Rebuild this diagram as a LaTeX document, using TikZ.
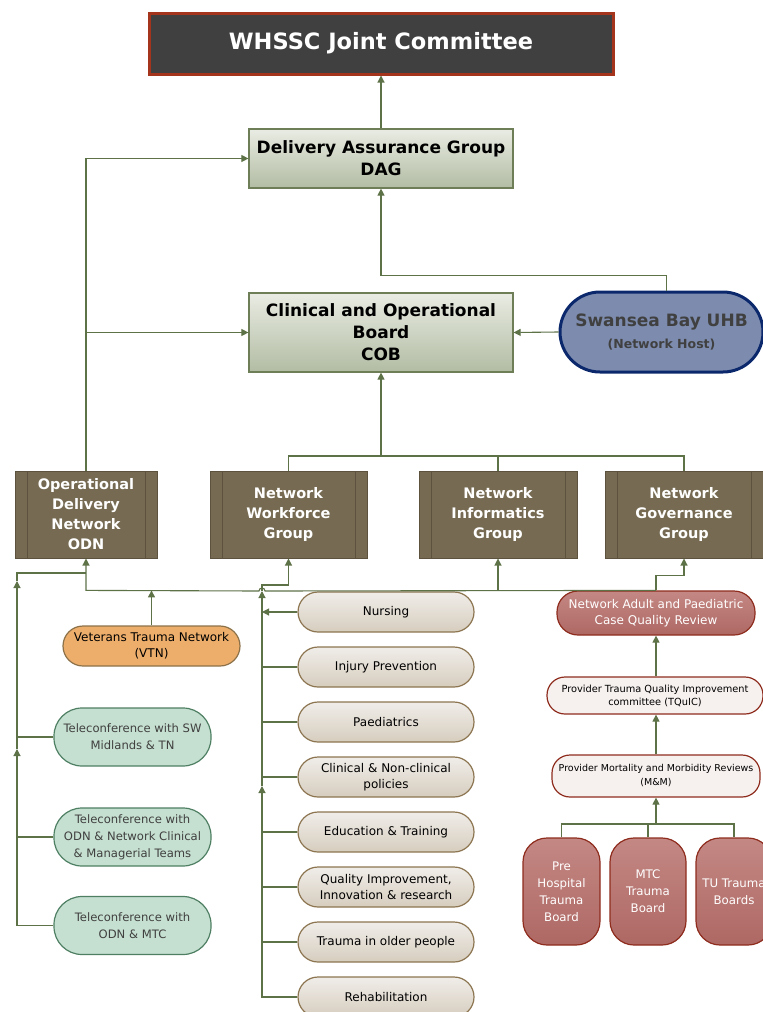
\documentclass[tikz,border=0pt]{standalone}
\usepackage{fontspec}
\setmainfont{DejaVu Sans}
\usetikzlibrary{arrows.meta}
\definecolor{linec}{RGB}{94,114,72}
\definecolor{whsf}{RGB}{64,64,64}
\definecolor{whsb}{RGB}{165,52,28}
\definecolor{boardt}{RGB}{233,236,227}
\definecolor{boardb}{RGB}{178,188,163}
\definecolor{boardd}{RGB}{110,127,87}
\definecolor{grpf}{RGB}{118,107,82}
\definecolor{grpb}{RGB}{92,82,61}
\definecolor{hostf}{RGB}{124,139,174}
\definecolor{hostb}{RGB}{12,40,108}
\definecolor{vtnf}{RGB}{237,174,108}
\definecolor{vtnb}{RGB}{140,113,72}
\definecolor{telf}{RGB}{197,223,208}
\definecolor{telb}{RGB}{78,127,99}
\definecolor{edut}{RGB}{240,237,233}
\definecolor{edub}{RGB}{214,205,190}
\definecolor{edud}{RGB}{140,117,80}
\definecolor{revt}{RGB}{196,136,132}
\definecolor{revb}{RGB}{174,104,100}
\definecolor{revd}{RGB}{142,44,30}
\definecolor{provf}{RGB}{246,241,239}
\definecolor{darktxt}{RGB}{64,64,64}

\begin{document}
\begin{tikzpicture}[x=1pt, y=-1pt,
  arr/.style={-{Triangle[length=7pt,width=7pt]}, draw=linec, line width=1.1pt},
  ln/.style={draw=linec, line width=1.1pt},
  topbox/.style={draw=whsb, fill=whsf, line width=3pt, text=white, font=\bfseries\fontsize{22.5}{26}\selectfont, minimum width=464pt, minimum height=61pt},
  board/.style={draw=boardd, top color=boardt, bottom color=boardb, line width=1.2pt, align=center, font=\bfseries\fontsize{17}{22}\selectfont, minimum width=264pt, inner sep=1pt},
  grp/.style={draw=grpb, fill=grpf, line width=1pt, text=white, align=center, font=\bfseries\fontsize{14.5}{20}\selectfont, minimum height=87pt, inner sep=1pt,
    path picture={\draw[grpb, line width=1pt] ([xshift=12pt]path picture bounding box.north west) -- ([xshift=12pt]path picture bounding box.south west)
      ([xshift=-12pt]path picture bounding box.north east) -- ([xshift=-12pt]path picture bounding box.south east);}},
  host/.style={draw=hostb, fill=hostf, line width=3pt, text=darktxt, align=center, rounded corners=40pt, minimum width=203pt, minimum height=80pt},
  vtnbox/.style={draw=vtnb, fill=vtnf, line width=1.2pt, align=center, rounded corners=20pt, font=\fontsize{12}{16}\selectfont, minimum width=177pt, minimum height=40pt, inner sep=1pt},
  tele/.style={draw=telb, fill=telf, line width=1.2pt, text=darktxt, align=center, rounded corners=28pt, font=\fontsize{11.6}{17}\selectfont, minimum width=157pt, minimum height=58pt, inner sep=1pt},
  edu/.style={draw=edud, top color=edut, bottom color=edub, line width=1.2pt, align=center, rounded corners=20pt, font=\fontsize{12}{16}\selectfont, minimum width=176pt, minimum height=40pt, inner sep=1pt},
  review/.style={draw=revd, top color=revt, bottom color=revb, line width=1.2pt, text=white, align=center, rounded corners=21pt, font=\fontsize{12}{16}\selectfont, minimum width=198pt, minimum height=44pt, inner sep=1pt},
  prov/.style={draw=revd, fill=provf, line width=1.2pt, align=center, rounded corners=18pt, inner sep=1pt},
  trauma/.style={draw=revd, top color=revt, bottom color=revb, line width=1.2pt, text=white, align=center, rounded corners=24pt, font=\fontsize{11.8}{17}\selectfont, minimum height=107pt, inner sep=1pt}]
\useasboundingbox (0,0) rectangle (763,1012);

% committees
\node[topbox] (whssc) at (381,43.5) {WHSSC Joint Committee};
\node[board, minimum height=59pt] (dag) at (381,158.5) {Delivery Assurance Group\\DAG};
\node[board, minimum height=79pt] (cob) at (381,332.5) {Clinical and Operational\\Board\\COB};
\node[host] (host) at (661.5,332) {{\bfseries\fontsize{17}{26}\selectfont Swansea Bay UHB}\\[7pt]{\bfseries\fontsize{12.5}{16}\selectfont (Network Host)}};

% groups
\node[grp, minimum width=142pt] (odn) at (86,514.5) {Operational\\Delivery\\Network\\ODN};
\node[grp, minimum width=157pt] (wfg) at (288.5,514.5) {Network\\Workforce\\Group};
\node[grp, minimum width=158pt] (nig) at (498,514.5) {Network\\Informatics\\Group};
\node[grp, minimum width=158pt] (ngg) at (684,514.5) {Network\\Governance\\Group};

% left side
\node[vtnbox] (vtn) at (151.5,646) {Veterans Trauma Network\\(VTN)};
\node[tele] (tel1) at (132.5,737) {Teleconference with SW\\Midlands \& TN};
\node[tele] (tel2) at (132.5,837) {Teleconference with\\ODN \& Network Clinical\\\& Managerial Teams};
\node[tele] (tel3) at (132.5,925.5) {Teleconference with\\ODN \& MTC};

% workforce topics
\node[edu] (edu1) at (386,612) {Nursing};
\node[edu] (edu2) at (386,667) {Injury Prevention};
\node[edu] (edu3) at (386,722) {Paediatrics};
\node[edu] (edu4) at (386,777) {Clinical \& Non-clinical\\policies};
\node[edu] (edu5) at (386,832) {Education \& Training};
\node[edu] (edu6) at (386,887) {Quality Improvement,\\Innovation \& research};
\node[edu] (edu7) at (386,942) {Trauma in older people};
\node[edu] (edu8) at (386,997) {Rehabilitation};

% governance side
\node[review] (cqr) at (656,613) {Network Adult and Paediatric\\Case Quality Review};
\node[prov, minimum width=216pt, minimum height=37pt, font=\fontsize{9.8}{13}\selectfont] (tquic) at (655,695.5) {Provider Trauma Quality Improvement\\committee (TQuIC)};
\node[prov, minimum width=208pt, minimum height=42pt, font=\fontsize{9.5}{14}\selectfont] (mm) at (656,776) {Provider Mortality and Morbidity Reviews\\(M\&M)};
\node[trauma, minimum width=77pt] (pre) at (561.5,891.5) {Pre\\Hospital\\Trauma\\Board};
\node[trauma, minimum width=76pt] (mtc) at (648,891.5) {MTC\\Trauma\\Board};
\node[trauma, minimum width=76pt] (tu) at (734,891.5) {TU Trauma\\Boards};

% junction points
\coordinate (gbus) at (381,456);
\coordinate (tbus) at (17,573);
\coordinate (ta1) at (17,581);
\coordinate (ta2) at (17,749);
\coordinate (ebus) at (262,585);
\coordinate (ea1) at (262,591);
\coordinate (ea2) at (262,786);
\coordinate (mbus) at (656,824);

% upper connectors
\draw[arr] (dag) -- (whssc);
\draw[arr] ([xshift=5pt]host.north) -- ++(0,-15) -| (dag.south);
\draw[arr] (host.west) -- (cob.east);
\draw[arr] (odn.north) |- (dag.west);
\draw[arr] (odn.north |- cob.west) -- (cob.west);
\draw[ln] (wfg.north) |- (gbus) -| (ngg.north);
\draw[ln] (nig.north) -- (nig.north |- gbus);
\draw[arr] (gbus) -- (cob.south);

% lower bus
\draw[arr] (cqr.north) -- (265,591) arc[start angle=0, end angle=-180, radius=3] -- (odn.south |- cqr.north) -- (odn.south);
\draw[arr] (cqr.north) -- ++(0,-15) -| (ngg.south);
\draw[arr] (nig.south |- cqr.north) -- (nig.south);
\draw[arr] (vtn.north) -- (vtn.north |- cqr.north);

% teleconference links
\draw[ln] (ta1) -- (tbus) -- (tbus -| odn.south);
\draw[arr] (tel1.west) -| (ta1);
\draw[ln] (ta2) -- (tel1.west -| ta2);
\draw[ln] (tel2.west) -- (tel2.west -| ta2);
\draw[arr] (tel3.west) -| (ta2);

% workforce topic links
\draw[arr] (ea1) -- (ebus) -| (wfg.south);
\draw[arr] (edu1.west) -- (edu1.west -| ea1);
\draw[ln] (edu2.west) -- (edu2.west -| ea1);
\draw[ln] (edu3.west) -- (edu3.west -| ea1);
\draw[arr] (edu4.west) -| (ea1);
\draw[ln] (ea2) -- (edu4.west -| ea2);
\draw[ln] (edu5.west) -- (edu5.west -| ea2);
\draw[ln] (edu6.west) -- (edu6.west -| ea2);
\draw[ln] (edu7.west) -- (edu7.west -| ea2);
\draw[arr] (edu8.west) -| (ea2);

% review chain
\draw[arr] (tquic.north -| cqr.south) -- (cqr.south);
\draw[arr] (mm) -- (mm.north |- tquic.south);
\draw[ln] (pre.north) |- (mbus) -| (tu.north);
\draw[ln] (mtc.north) -- (mtc.north |- mbus);
\draw[arr] (mbus) -- (mm.south);
\end{tikzpicture}
\end{document}
